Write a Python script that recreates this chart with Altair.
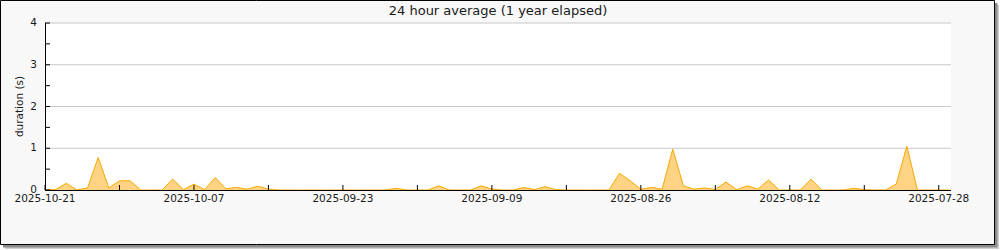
import altair as alt
import pandas as pd

# Daily 24-hour average durations (s), day 0 = 2025-10-21, going back in time
durations = [
    0.00, 0.01, 0.16, 0.00, 0.05, 0.78, 0.05, 0.22, 0.22, 0.00,
    0.00, 0.00, 0.26, 0.01, 0.14, 0.01, 0.30, 0.03, 0.06, 0.02,
    0.09, 0.02, 0.00, 0.00, 0.00, 0.00, 0.00, 0.00, 0.00, 0.00,
    0.00, 0.00, 0.00, 0.04, 0.00, 0.00, 0.00, 0.10, 0.00, 0.00,
    0.00, 0.10, 0.02, 0.00, 0.00, 0.06, 0.01, 0.08, 0.01, 0.00,
    0.00, 0.00, 0.00, 0.00, 0.40, 0.22, 0.02, 0.06, 0.02, 0.98,
    0.10, 0.02, 0.05, 0.01, 0.19, 0.01, 0.10, 0.02, 0.24, 0.00,
    0.00, 0.00, 0.26, 0.00, 0.00, 0.00, 0.04, 0.01, 0.00, 0.00,
    0.14, 1.05, 0.00, 0.00, 0.00, 0.00,
]
tick_labels = ["2025-10-21", "2025-10-07", "2025-09-23", "2025-09-09",
               "2025-08-26", "2025-08-12", "2025-07-28"]
label_days = [0, 14, 28, 42, 56, 70, 84]
minor_x_ticks = [0, 7, 14, 21, 28, 35, 42, 49, 56, 63, 70, 77, 84]
y_ticks = [0, 0.5, 1, 1.5, 2, 2.5, 3, 3.5, 4]
y_labels = [0, 1, 2, 3, 4]
grid_values = [1, 2, 3, 4]

TITLE = "24 hour average (1 year elapsed)"
Y_TITLE = "duration (s)"
FONT = "DejaVu Sans"
TEXT_COLOR = "#1a1a1a"

W, H = 906, 167
xscale = alt.Scale(domain=[0, 85.15], nice=False, zero=False)
yscale = alt.Scale(domain=[0, 4], nice=False)

df = pd.DataFrame({"d": list(range(len(durations))), "v": durations})
one = pd.DataFrame({"k": [0]})

shadow_outer = alt.Chart(one).mark_rect(fill="#d0d0d0").encode(
    x=alt.value(-40), x2=alt.value(954), y=alt.value(-18), y2=alt.value(226))
shadow_inner = alt.Chart(one).mark_rect(fill="#8c8c8c").encode(
    x=alt.value(-42), x2=alt.value(952.5), y=alt.value(-20), y2=alt.value(224.5))
frame = alt.Chart(one).mark_rect(fill="#f8f8f8", stroke="#000000", strokeWidth=1).encode(
    x=alt.value(-44.5), x2=alt.value(949.5), y=alt.value(-22.5), y2=alt.value(221.5))
plot_bg = alt.Chart(one).mark_rect(fill="#ffffff").encode(
    x=alt.value(0), x2=alt.value(W), y=alt.value(0), y2=alt.value(H))

grid = alt.Chart(pd.DataFrame({"g": grid_values})).mark_rule(
    color="#c8c8c8", strokeWidth=1).encode(
    y=alt.Y("g:Q", scale=yscale, axis=None),
    x=alt.value(0), x2=alt.value(W))

area = alt.Chart(df).mark_area(fill="#fed383", opacity=1, interpolate="linear").encode(
    x=alt.X("d:Q", scale=xscale, axis=None),
    y=alt.Y("v:Q", scale=yscale, axis=None))
line = alt.Chart(df).mark_line(color="#f7a800", strokeWidth=1, interpolate="linear").encode(
    x=alt.X("d:Q", scale=xscale, axis=None),
    y=alt.Y("v:Q", scale=yscale, axis=None))

xticks = alt.Chart(pd.DataFrame({"t": minor_x_ticks})).mark_rule(
    color="#000000", strokeWidth=1).encode(
    x=alt.X("t:Q", scale=xscale, axis=None),
    y=alt.value(H), y2=alt.value(H - 5))
yticks = alt.Chart(pd.DataFrame({"t": y_ticks})).mark_rule(
    color="#000000", strokeWidth=1).encode(
    y=alt.Y("t:Q", scale=yscale, axis=None),
    x=alt.value(0), x2=alt.value(5))

x_domain = alt.Chart(one).mark_rule(color="#000000", strokeWidth=1).encode(
    x=alt.value(0), x2=alt.value(W), y=alt.value(H + 0.5))
y_domain = alt.Chart(one).mark_rule(color="#000000", strokeWidth=1).encode(
    x=alt.value(0.5), y=alt.value(0), y2=alt.value(H))

x_labels = alt.Chart(pd.DataFrame({"d": label_days, "lab": tick_labels})).mark_text(
    font=FONT, fontSize=10.5, color=TEXT_COLOR, align="center", baseline="middle").encode(
    x=alt.X("d:Q", scale=xscale, axis=None),
    y=alt.value(H + 8.5), text="lab:N")
y_label_chart = alt.Chart(pd.DataFrame({"v": y_labels})).mark_text(
    font=FONT, fontSize=10.5, color=TEXT_COLOR, align="right", baseline="middle").encode(
    y=alt.Y("v:Q", scale=yscale, axis=None),
    x=alt.value(-8), text=alt.Text("v:Q", format="d"))
y_title = alt.Chart(one).mark_text(
    text=Y_TITLE, font=FONT, fontSize=10.5, color=TEXT_COLOR, angle=270,
    align="center", baseline="middle").encode(
    x=alt.value(-25), y=alt.value(H / 2))
title = alt.Chart(one).mark_text(
    text=TITLE, font=FONT, fontSize=13, color=TEXT_COLOR,
    align="center", baseline="middle").encode(
    x=alt.value(W / 2), y=alt.value(-12))

chart = alt.layer(
    shadow_outer, shadow_inner, frame, plot_bg, grid, area, line, xticks, yticks,
    x_domain, y_domain, x_labels, y_label_chart, y_title, title
).properties(
    width=W, height=H,
    autosize=alt.AutoSizeParams(type="none"),
    padding={"left": 45, "top": 23, "right": 49, "bottom": 60},
    background="#ffffff",
).configure_view(strokeWidth=0)

chart.save("out.html", embed_options={"renderer": "svg", "actions": False})
